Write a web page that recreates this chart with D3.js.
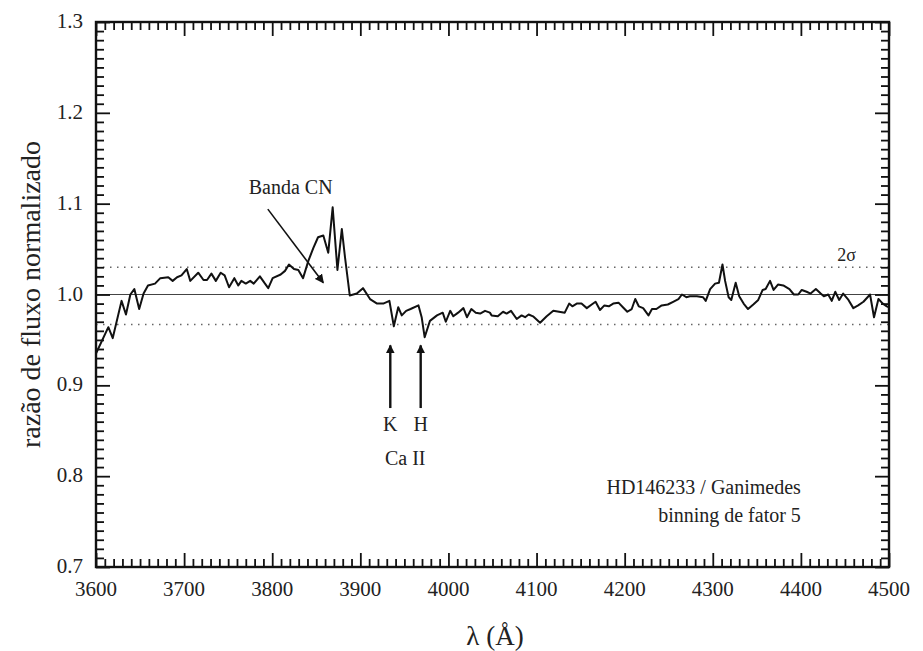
<!DOCTYPE html>
<html>
<head>
<meta charset="utf-8">
<script src="https://cdn.jsdelivr.net/npm/d3@7"></script>
<style>
  body { margin: 0; background: #fff; }
  svg { display: block; }
  text { font-family: "Liberation Serif", "Times New Roman", serif; fill: #222; }
</style>
</head>
<body>
<svg></svg>
<script>
// wavelength (A) and flux ratio
var lambda = [3600, 3614, 3619, 3629, 3634, 3639, 3643.5, 3649, 3654, 3659, 3667, 3673, 3682, 3687, 3692, 3697,
    3703, 3707, 3716, 3722, 3726, 3731, 3736, 3741.5, 3746, 3751, 3757, 3761.5, 3765, 3770, 3775, 3779, 3786, 3791,
    3795.5, 3800.5, 3809.6, 3814.5, 3819, 3824.7, 3829.6, 3835, 3841, 3846.6, 3852, 3858, 3863.6, 3868.6, 3874, 3879,
    3882.6, 3888, 3896, 3903, 3911, 3919, 3926, 3933, 3938, 3943, 3947, 3952, 3957, 3966, 3969.6, 3973, 3979, 3987,
    3993.5, 3997, 4002, 4005.5, 4011, 4017, 4021, 4026, 4031, 4036, 4041.5, 4047, 4049, 4056, 4062, 4066, 4071,
    4077.5, 4083, 4087, 4091, 4096, 4104, 4111.5, 4119, 4125.5, 4132, 4137, 4140.6, 4145.6, 4151, 4157, 4162.6, 4167,
    4172, 4177, 4182, 4187, 4193, 4198, 4203, 4208, 4212, 4216, 4221, 4227, 4231, 4236, 4242, 4249, 4255, 4261, 4265,
    4270, 4274, 4282, 4289, 4292, 4297, 4302.6, 4307, 4311, 4314, 4318, 4321, 4326, 4330, 4335, 4340, 4346, 4351.6,
    4356.6, 4360, 4365, 4369, 4374, 4380, 4387, 4392, 4397, 4401, 4406.5, 4411, 4417, 4422.5, 4426, 4431, 4435, 4439,
    4443.5, 4448, 4454, 4459.5, 4465, 4471, 4478.5, 4483, 4488, 4493, 4497.5, 4500];
var ratio = [0.935, 0.964, 0.952, 0.993, 0.978, 1.000, 1.006, 0.984, 1.001, 1.010, 1.012, 1.018, 1.019, 1.015, 1.019, 1.021,
    1.028, 1.015, 1.024, 1.016, 1.016, 1.023, 1.015, 1.024, 1.021, 1.008, 1.018, 1.010, 1.015, 1.012, 1.015, 1.012, 1.020, 1.013,
    1.007, 1.018, 1.022, 1.026, 1.033, 1.028, 1.027, 1.018, 1.037, 1.051, 1.063, 1.065, 1.046, 1.096, 1.027, 1.072,
    1.041, 0.999, 1.001, 1.007, 0.995, 0.990, 0.990, 0.993, 0.965, 0.986, 0.977, 0.982, 0.984, 0.988, 0.975, 0.953, 0.971, 0.977,
    0.980, 0.970, 0.982, 0.976, 0.980, 0.985, 0.975, 0.984, 0.980, 0.979, 0.982, 0.980, 0.977, 0.976, 0.981, 0.979, 0.982,
    0.973, 0.977, 0.975, 0.978, 0.976, 0.969, 0.976, 0.982, 0.981, 0.980, 0.990, 0.987, 0.990, 0.990, 0.985, 0.989, 0.992,
    0.983, 0.988, 0.987, 0.990, 0.991, 0.986, 0.981, 0.984, 0.995, 0.987, 0.985, 0.977, 0.984, 0.984, 0.988, 0.989, 0.992, 0.995, 1.000,
    0.997, 0.998, 0.998, 0.997, 0.993, 1.006, 1.012, 1.013, 1.033, 1.015, 0.997, 0.994, 1.013, 0.998, 0.990, 0.984, 0.989, 0.994,
    1.005, 1.006, 1.015, 1.005, 1.011, 1.010, 1.006, 1.000, 1.000, 1.005, 1.003, 1.001, 1.006, 1.001, 0.998, 1.000, 0.993, 1.003,
    0.994, 1.001, 0.994, 0.985, 0.988, 0.992, 1.000, 0.975, 0.995, 0.990, 0.987, 0.986];

var xTicks = [3600, 3700, 3800, 3900, 4000, 4100, 4200, 4300, 4400, 4500];
var yTicks = [0.7, 0.8, 0.9, 1.0, 1.1, 1.2, 1.3];
var sigmaLines = [1.03, 0.967];
var caLines = [{ name: "K", x: 3934 }, { name: "H", x: 3968.5 }];

var width = 923, height = 651;
var margin = { left: 96, right: 34, top: 22, bottom: 84 };

var svg = d3.select("svg").attr("width", width).attr("height", height);

var x = d3.scaleLinear().domain([3600, 4500]).range([margin.left, width - margin.right]);
var y = d3.scaleLinear().domain([0.7, 1.3]).range([height - margin.bottom, margin.top]);

// note: "top" is reserved on window, so spell these out
var xLeft = x.range()[0], xRight = x.range()[1], yBottom = y.range()[0], yTop = y.range()[1];

svg.append("defs").append("marker")
    .attr("id", "head")
    .attr("viewBox", "0 0 10 10")
    .attr("refX", 9).attr("refY", 5)
    .attr("markerWidth", 9).attr("markerHeight", 9)
    .attr("markerUnits", "userSpaceOnUse")
    .attr("orient", "auto")
    .append("path").attr("d", "M0,0L10,5L0,10z").attr("fill", "#111");

// reference lines
svg.append("line")
    .attr("x1", xLeft).attr("x2", xRight)
    .attr("y1", y(1.0)).attr("y2", y(1.0))
    .attr("stroke", "#444").attr("stroke-width", 1.2);

svg.selectAll("line.sigma").data(sigmaLines).enter().append("line")
    .attr("class", "sigma")
    .attr("x1", xLeft).attr("x2", xRight)
    .attr("y1", (d) => y(d)).attr("y2", (d) => y(d))
    .attr("stroke", "#666").attr("stroke-width", 1.5)
    .attr("stroke-dasharray", "1.5,5.5");

// spectrum
var line = d3.line()
    .x((d, i) => x(lambda[i]))
    .y((d) => y(d));

svg.append("path")
    .attr("d", line(ratio))
    .attr("fill", "none")
    .attr("stroke", "#111")
    .attr("stroke-width", 2)
    .attr("stroke-linejoin", "round");

// inward ticks on all four sides, minor every 10 A / 0.01
var xMinor = d3.range(3600, 4501, 10).filter((d) => d % 100 !== 0);
var yMinor = d3.range(70, 131, 1).filter((d) => d % 10 !== 0).map((d) => d / 100);

function tickAxis(axis, tx, ty) {
    var a = svg.append("g")
        .attr("transform", "translate(" + tx + "," + ty + ")")
        .call(axis);
    a.select(".domain").remove();
    a.selectAll(".tick line").attr("stroke", "#111").attr("stroke-width", 1.8);
    a.selectAll(".tick text").remove();
    return a;
}

tickAxis(d3.axisBottom(x).tickValues(xMinor).tickSize(-8), 0, yBottom);
tickAxis(d3.axisBottom(x).tickValues(xTicks).tickSize(-14), 0, yBottom);
tickAxis(d3.axisTop(x).tickValues(xMinor).tickSize(-8), 0, yTop);
tickAxis(d3.axisTop(x).tickValues(xTicks).tickSize(-14), 0, yTop);
tickAxis(d3.axisLeft(y).tickValues(yMinor).tickSize(-8), xLeft, 0);
tickAxis(d3.axisLeft(y).tickValues(yTicks).tickSize(-14), xLeft, 0);
tickAxis(d3.axisRight(y).tickValues(yMinor).tickSize(-8), xRight, 0);
tickAxis(d3.axisRight(y).tickValues(yTicks).tickSize(-14), xRight, 0);

svg.append("rect")
    .attr("x", xLeft).attr("y", yTop)
    .attr("width", xRight - xLeft).attr("height", yBottom - yTop)
    .attr("fill", "none").attr("stroke", "#111").attr("stroke-width", 2.4);

// tick labels
svg.selectAll("text.xt").data(xTicks).enter().append("text")
    .attr("x", (d) => x(d)).attr("y", yBottom + 29)
    .attr("text-anchor", "middle")
    .attr("font-size", 21)
    .text((d) => d);

svg.selectAll("text.yt").data(yTicks).enter().append("text")
    .attr("x", xLeft - 13).attr("y", (d) => y(d) + 6)
    .attr("text-anchor", "end")
    .attr("font-size", 21)
    .text((d) => d.toFixed(1));

// axis titles
svg.append("text")
    .attr("x", 495).attr("y", 645)
    .attr("text-anchor", "middle")
    .attr("font-size", 27)
    .text("λ (Å)");

svg.append("text")
    .attr("transform", "translate(40," + y(1.0) + ") rotate(-90)")
    .attr("text-anchor", "middle")
    .attr("font-size", 28)
    .text("razão de fluxo normalizado");

// annotations
svg.append("text")
    .attr("x", x(3821)).attr("y", y(1.111))
    .attr("text-anchor", "middle").attr("font-size", 20)
    .text("Banda CN");

svg.append("line")
    .attr("x1", x(3795)).attr("y1", y(1.094))
    .attr("x2", x(3858)).attr("y2", y(1.013))
    .attr("stroke", "#111").attr("stroke-width", 1.6)
    .attr("marker-end", "url(#head)");

svg.selectAll("line.ca").data(caLines).enter().append("line")
    .attr("class", "ca")
    .attr("x1", (d) => x(d.x)).attr("x2", (d) => x(d.x))
    .attr("y1", y(0.875)).attr("y2", y(0.944))
    .attr("stroke", "#111").attr("stroke-width", 2.4)
    .attr("marker-end", "url(#head)");

svg.selectAll("text.ca").data(caLines).enter().append("text")
    .attr("x", (d) => x(d.x)).attr("y", y(0.85))
    .attr("text-anchor", "middle").attr("font-size", 20)
    .text((d) => d.name);

svg.append("text")
    .attr("x", x(3951)).attr("y", y(0.812))
    .attr("text-anchor", "middle").attr("font-size", 20)
    .text("Ca II");

svg.append("text")
    .attr("x", x(4452)).attr("y", y(1.037))
    .attr("text-anchor", "middle").attr("font-size", 18)
    .text("2σ");

svg.append("text")
    .attr("x", x(4400)).attr("y", y(0.78))
    .attr("text-anchor", "end").attr("font-size", 20)
    .text("HD146233 / Ganimedes");

svg.append("text")
    .attr("x", x(4400)).attr("y", y(0.749))
    .attr("text-anchor", "end").attr("font-size", 20)
    .text("binning de fator 5");
</script>
</body>
</html>
